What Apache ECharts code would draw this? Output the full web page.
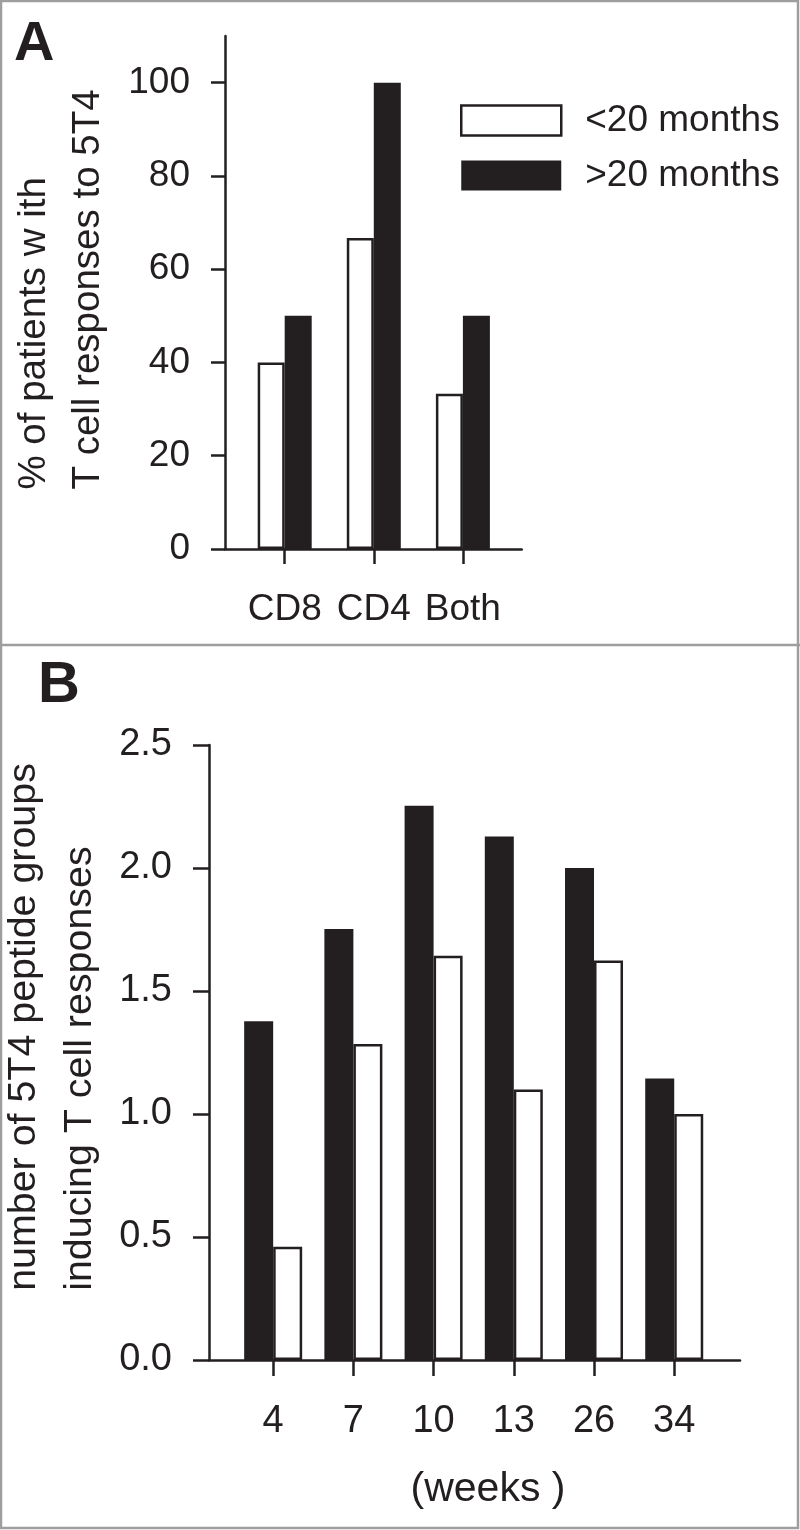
<!DOCTYPE html>
<html><head><meta charset="utf-8">
<script src="https://cdn.jsdelivr.net/npm/echarts@6/dist/echarts.min.js"></script>
<style>html,body{margin:0;padding:0;background:#fff}#c{width:800px;height:1530px}</style>
</head><body><div id="c"></div>
<script>
const FONT = '"Liberation Sans", Arial, Helvetica, sans-serif';
const INK = '#231f20';

// Panel A data
const categoriesA = ['CD8', 'CD4', 'Both'];
const under20A = [40, 66.7, 33.3];
const over20A = [50, 100, 50];
const yTicksA = [0, 20, 40, 60, 80, 100];

// Panel B data
const weeksB = ['4', '7', '10', '13', '26', '34'];
const over20B = [1.377, 1.752, 2.253, 2.128, 2.0, 1.144];
const under20B = [0.46, 1.285, 1.643, 1.10, 1.624, 1.0];
const yTicksB = [0, 0.5, 1.0, 1.5, 2.0, 2.5];

const seriesNames = ['<20 months', '>20 months'];

const posA = categoriesA.map((c, i) => i + 1);
const posB = weeksB.map((c, i) => i + 1);

const lineSt = { color: INK, width: 2.5 };
const txt = (size) => ({ color: INK, fontFamily: FONT, fontSize: size });

const whiteStyle = { color: '#ffffff', borderColor: INK, borderWidth: 2.5 };
const blackStyle = { color: INK, borderWidth: 0 };

const chart = echarts.init(document.getElementById('c'), null, { renderer: 'canvas' });
chart.setOption({
  animation: false,
  backgroundColor: '#ffffff',
  grid: [
    { left: 225, top: 36, width: 296.7, height: 513, outerBoundsMode: 'none' },
    { left: 209, top: 745, width: 531, height: 615, outerBoundsMode: 'none' }
  ],
  legend: {
    orient: 'vertical', left: 460, top: 102, padding: 0,
    itemWidth: 100, itemHeight: 30, itemGap: 18,
    selectedMode: false,
    textStyle: Object.assign(txt(37), { lineHeight: 30, padding: [0, 0, 0, 19] }),
    data: [
      { name: seriesNames[0], icon: 'rect', itemStyle: whiteStyle },
      { name: seriesNames[1], icon: 'rect', itemStyle: blackStyle }
    ]
  },
  xAxis: [
    {
      gridIndex: 0, type: 'value', min: 0.33, max: 3.66,
      splitLine: { show: false },
      axisLine: { show: true, onZero: false, lineStyle: lineSt },
      axisTick: { show: true, customValues: posA, length: 15, lineStyle: lineSt },
      axisLabel: Object.assign(txt(37), { customValues: posA, margin: 42,
        formatter: (v) => categoriesA[Math.round(v) - 1] })
    },
    {
      gridIndex: 1, type: 'value', min: 0.2, max: 6.82,
      splitLine: { show: false },
      axisLine: { show: true, onZero: false, lineStyle: lineSt },
      axisTick: { show: true, customValues: posB, length: 16, lineStyle: lineSt },
      axisLabel: Object.assign(txt(38), { customValues: posB, margin: 43,
        formatter: (v) => weeksB[Math.round(v) - 1] }),
      name: '(weeks )', nameLocation: 'middle', nameGap: 109,
      nameTextStyle: Object.assign(txt(41), { padding: [0, 0, 0, 27] })
    }
  ],
  yAxis: [
    {
      gridIndex: 0, type: 'value', min: 0, max: 110,
      splitLine: { show: false },
      axisLine: { show: true, onZero: false, lineStyle: lineSt },
      axisTick: { show: true, customValues: yTicksA, length: 14, lineStyle: lineSt },
      axisLabel: Object.assign(txt(37), { customValues: yTicksA, margin: 35 }),
      name: '{n|% of patients w ith}\n{n|T cell responses to 5T4}',
      nameLocation: 'middle', nameRotate: 90, nameGap: 110,
      nameTextStyle: Object.assign(txt(38.5), {
        lineHeight: 54, padding: [0, 0, 0, 6],
        rich: { n: Object.assign(txt(38.5), { lineHeight: 54, align: 'left' }) }
      })
    },
    {
      gridIndex: 1, type: 'value', min: 0, max: 2.5, interval: 0.5,
      splitLine: { show: false },
      axisLine: { show: true, onZero: false, lineStyle: lineSt },
      axisTick: { show: true, customValues: yTicksB, length: 16, lineStyle: lineSt },
      axisLabel: Object.assign(txt(38), { customValues: yTicksB, margin: 37,
        formatter: (v) => v.toFixed(1) }),
      name: '{n|number of 5T4 peptide groups}\n{n|inducing T cell responses}',
      nameLocation: 'middle', nameRotate: 90, nameGap: 82,
      nameTextStyle: Object.assign(txt(39.4), {
        lineHeight: 56, padding: [0, 0, 0, 51],
        rich: { n: Object.assign(txt(39.4), { lineHeight: 56, align: 'left' }) }
      })
    }
  ],
  series: [
    { type: 'bar', name: seriesNames[0], xAxisIndex: 0, yAxisIndex: 0,
      data: under20A.map((v, i) => [posA[i], v]), barWidth: 27, barGap: '0%',
      itemStyle: whiteStyle, emphasis: { disabled: true } },
    { type: 'bar', name: seriesNames[1], xAxisIndex: 0, yAxisIndex: 0,
      data: over20A.map((v, i) => [posA[i], v]), barWidth: 27, barGap: '0%',
      itemStyle: blackStyle, emphasis: { disabled: true } },
    { type: 'bar', name: seriesNames[1], xAxisIndex: 1, yAxisIndex: 1,
      data: over20B.map((v, i) => [posB[i], v]), barWidth: 29, barGap: '0%',
      itemStyle: blackStyle, emphasis: { disabled: true } },
    { type: 'bar', name: seriesNames[0], xAxisIndex: 1, yAxisIndex: 1,
      data: under20B.map((v, i) => [posB[i], v]), barWidth: 29, barGap: '0%',
      itemStyle: whiteStyle, emphasis: { disabled: true } }
  ],
  graphic: [
    { type: 'rect', silent: true, shape: { x: 1, y: 1, width: 797, height: 1527 },
      style: { fill: 'none', stroke: '#9e9e9e', lineWidth: 2.5 } },
    { type: 'line', silent: true, shape: { x1: 0, y1: 645, x2: 800, y2: 645 },
      style: { stroke: '#9e9e9e', lineWidth: 2.5 } },
    { type: 'text', silent: true, left: 14, top: 17,
      style: { text: 'A', fill: INK, font: 'bold 56px ' + FONT } },
    { type: 'text', silent: true, left: 38, top: 657,
      style: { text: 'B', fill: INK, font: 'bold 58px ' + FONT } }
  ]
});
</script>
</body></html>
